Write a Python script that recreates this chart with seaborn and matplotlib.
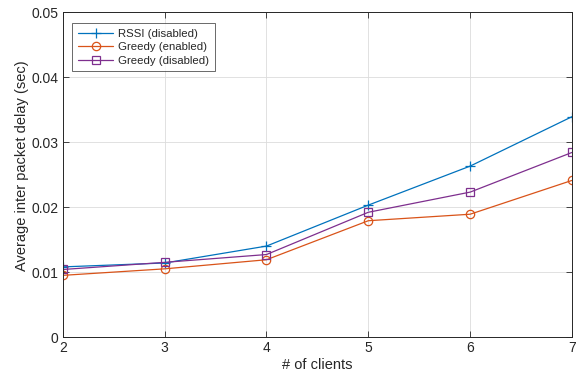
import matplotlib
matplotlib.use("Agg")
import matplotlib.pyplot as plt
import seaborn as sns
import pandas as pd

clients = [2, 3, 4, 5, 6, 7]
rssi_disabled = [0.0108, 0.0114, 0.0140, 0.0203, 0.0263, 0.0339]
greedy_enabled = [0.0095, 0.0105, 0.0119, 0.0179, 0.0189, 0.0241]
greedy_disabled = [0.0104, 0.0115, 0.0127, 0.0192, 0.0223, 0.0284]
series_names = ["RSSI (disabled)", "Greedy (enabled)", "Greedy (disabled)"]

sns.set_theme(style="white")
plt.rcParams["font.family"] = ["Liberation Sans", "DejaVu Sans"]

series_values = [rssi_disabled, greedy_enabled, greedy_disabled]
colors = ["#0072BD", "#D95319", "#7E2F8E"]
markers = ["+", "o", "s"]
marker_sizes = [7.5, 6, 5.2]

fig = plt.figure(figsize=(5.76, 3.75), dpi=100)
ax = fig.add_axes([0.109, 0.101, 0.884, 0.867])

for name, vals, c, m, ms in zip(series_names, series_values, colors, markers, marker_sizes):
    df = pd.DataFrame({"clients": clients, "delay": vals})
    kw = dict(markerfacecolor="none") if m != "+" else {}
    sns.lineplot(data=df, x="clients", y="delay", color=c, marker=m,
                 markersize=ms, markeredgewidth=0.9, markeredgecolor=c,
                 linewidth=0.9, label=name, ax=ax, **kw)

ax.set_xlim(2, 7)
ax.set_ylim(0, 0.05)
ax.set_xticks(clients)
ax.set_yticks([0, 0.01, 0.02, 0.03, 0.04, 0.05])
ax.set_yticklabels(["0", "0.01", "0.02", "0.03", "0.04", "0.05"])
ax.grid(True, color="#dcdcdc", linewidth=0.6)
ax.set_axisbelow(True)
ax.tick_params(direction="in", length=4, width=0.6, colors="#262626",
               labelsize=10, top=True, right=True, bottom=True, left=True,
               labelcolor="#262626", pad=3)
for s in ax.spines.values():
    s.set_color("#262626")
    s.set_linewidth(0.7)
ax.set_xlabel("# of clients", fontsize=10.5, color="#262626", labelpad=2)
ax.set_ylabel("Average inter packet delay (sec)", fontsize=10.5, color="#262626")
ax.yaxis.set_label_coords(-0.066, 0.528)

leg = ax.legend(loc="upper left", bbox_to_anchor=(0.019, 0.966), fontsize=8.2,
                frameon=True, fancybox=False, edgecolor="#262626",
                handlelength=3.1, borderpad=0.5, labelspacing=0.3,
                handletextpad=0.4, borderaxespad=0)
leg.get_frame().set_linewidth(0.6)

fig.savefig("out.png", dpi=100)
